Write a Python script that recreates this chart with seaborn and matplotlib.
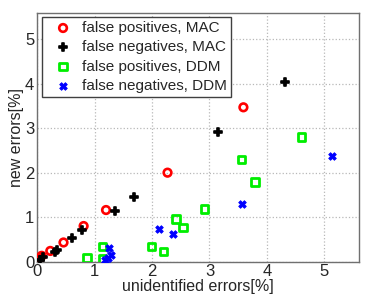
import matplotlib
matplotlib.use("Agg")
import matplotlib.pyplot as plt
import seaborn as sns
import pandas as pd

sns.set_style("white")
plt.rcParams['font.family'] = ['Liberation Sans', 'DejaVu Sans']

fp_mac_x = [0.02, 0.05, 0.08, 0.23, 0.46, 0.81, 1.20, 2.27, 3.59]
fp_mac_y = [0.04, 0.08, 0.13, 0.24, 0.43, 0.80, 1.16, 2.00, 3.47]
fn_mac_x = [0.05, 0.11, 0.31, 0.35, 0.60, 0.79, 1.36, 1.68, 3.14, 4.31]
fn_mac_y = [0.04, 0.10, 0.22, 0.26, 0.52, 0.70, 1.14, 1.46, 2.91, 4.04]
fp_ddm_x = [0.87, 1.14, 1.14, 1.99, 2.20, 2.42, 2.54, 2.91, 3.56, 3.79, 4.60]
fp_ddm_y = [0.08, 0.06, 0.34, 0.34, 0.22, 0.96, 0.76, 1.18, 2.30, 1.79, 2.80]
fn_ddm_x = [1.19, 1.24, 1.29, 1.26, 2.13, 2.36, 3.57, 5.13]
fn_ddm_y = [0.04, 0.08, 0.15, 0.31, 0.73, 0.61, 1.29, 2.38]

labels = ["false positives, MAC", "false negatives, MAC",
          "false positives, DDM", "false negatives, DDM"]

fig = plt.figure(figsize=(3.67, 3.0), dpi=100)
ax = fig.add_axes([0.101, 0.128, 0.877, 0.830])

sns.scatterplot(x=fp_mac_x, y=fp_mac_y, ax=ax, marker='o', s=30,
                facecolors='none', edgecolor='#ff0000', linewidth=1.9,
                label=labels[0], zorder=3)
sns.scatterplot(x=fn_mac_x, y=fn_mac_y, ax=ax, marker='P', s=38,
                color='black', edgecolor='black', linewidth=1.2,
                label=labels[1], zorder=3)
sns.scatterplot(x=fp_ddm_x, y=fp_ddm_y, ax=ax, marker='s', s=28,
                facecolors='none', edgecolor='#00ee00', linewidth=2.0,
                label=labels[2], zorder=3)
sns.scatterplot(x=fn_ddm_x, y=fn_ddm_y, ax=ax, marker='X', s=30,
                color='#0000ff', edgecolor='#0000ff', linewidth=0.6,
                label=labels[3], zorder=3)

ax.set_xlim(0, 5.6)
ax.set_ylim(0, 5.6)
ax.set_xticks([0, 1, 2, 3, 4, 5])
ax.set_yticks([0, 1, 2, 3, 4, 5])
ax.grid(True, linestyle=':', color='#b8b8b8', linewidth=0.9)
ax.tick_params(direction='in', labelsize=12, length=3, color='#555555', pad=2)
for sp in ax.spines.values():
    sp.set_color('#707070')
    sp.set_linewidth(1.0)
ax.set_xlabel("unidentified errors[%]", fontsize=11.5, labelpad=0)
ax.set_ylabel("new errors[%]", fontsize=11.5, labelpad=1)

leg = ax.legend(loc='upper left', fontsize=11, frameon=True, fancybox=False,
                edgecolor='#404040', framealpha=1, borderpad=0.25,
                handletextpad=0.1, labelspacing=0.35, borderaxespad=0.3,
                handlelength=2.3)
leg.get_frame().set_linewidth(1.0)

fig.savefig("out.png", dpi=100)
